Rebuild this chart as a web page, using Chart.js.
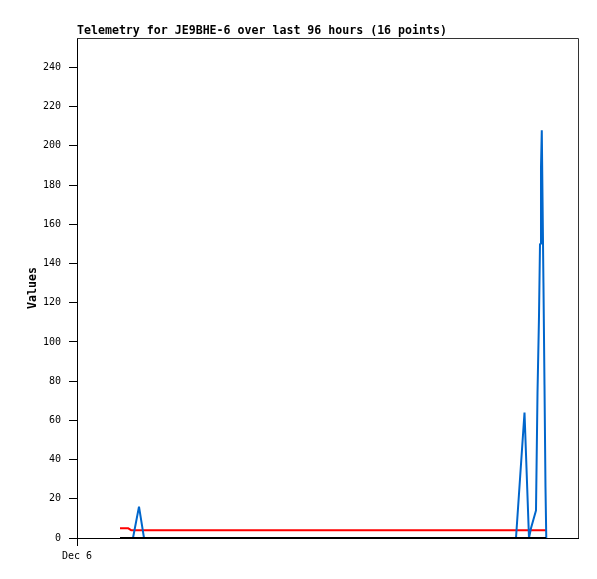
<!DOCTYPE html>
<html>
<head>
<meta charset="utf-8">
<script src="https://cdn.jsdelivr.net/npm/chart.js@4/dist/chart.umd.min.js"></script>
<style>
  body { margin: 0; background: #fff; }
  canvas { display: block; }
</style>
</head>
<body>
<canvas id="telemetry-chart" width="597" height="579"></canvas>
<script>
const titleText = "Telemetry for JE9BHE-6 over last 96 hours (16 points)";
const yLabel = "Values";

// x = hours since Dec 6 00:00
const blueHours = [10.73, 11.88, 12.84, 84.12, 85.75, 86.61, 86.99, 87.95, 88.24, 88.52, 88.72, 88.91, 89.06, 89.38, 89.58, 89.77, 89.92];
const blueValues = [0, 16, 0, 0, 64, 0, 5, 14, 74, 112, 150, 189, 208, 130, 78, 26, 0];
const redHours = [8.24, 9.77, 10.35, 89.86];
const redValues = [5, 5, 4, 4];
const blackHours = [8.24, 89.86];
const blackValues = [0, 0];

const yTicks = [0, 20, 40, 60, 80, 100, 120, 140, 160, 180, 200, 220, 240];
const xTicks = [0];
const xTickLabels = ["Dec 6"];

const mono = "'DejaVu Sans Mono', 'Liberation Mono', monospace";

function points(xs, ys) {
  return xs.map((x, i) => ({ x: x, y: ys[i] }));
}

function lineSet(label, xs, ys, color, width) {
  return {
    label: label,
    data: points(xs, ys),
    borderColor: color,
    borderWidth: width,
    borderJoinStyle: "bevel",
    pointRadius: 0,
    tension: 0,
    fill: false,
  };
}

// title text and the top/right frame lines
const framePlugin = {
  id: "frame",
  beforeDraw(chart) {
    const ctx = chart.ctx;
    ctx.save();
    ctx.fillStyle = "#fff";
    ctx.fillRect(0, 0, chart.width, chart.height);
    ctx.restore();
  },
  afterDraw(chart) {
    const { ctx, chartArea } = chart;
    ctx.save();
    ctx.strokeStyle = "#333";
    ctx.lineWidth = 1;
    ctx.beginPath();
    ctx.moveTo(chartArea.left, chartArea.top + 0.5);
    ctx.lineTo(chartArea.right + 0.5, chartArea.top + 0.5);
    ctx.lineTo(chartArea.right + 0.5, chartArea.bottom);
    ctx.stroke();
    ctx.fillStyle = "#000";
    ctx.font = "bold 11.6px " + mono;
    ctx.textAlign = "left";
    ctx.textBaseline = "alphabetic";
    ctx.fillText(titleText, chartArea.left, 34);
    ctx.restore();
  },
};

const ctx = document.getElementById("telemetry-chart").getContext("2d");
new Chart(ctx, {
  type: "line",
  data: {
    datasets: [
      lineSet("black", blackHours, blackValues, "#000000", 2),
      lineSet("blue", blueHours, blueValues, "#0066cc", 2),
      lineSet("red", redHours, redValues, "#ff0000", 2),
    ],
  },
  options: {
    responsive: false,
    animation: false,
    layout: { padding: { top: 38, right: 19, left: 0, bottom: 0 } },
    plugins: {
      legend: { display: false },
      tooltip: { enabled: false },
    },
    scales: {
      x: {
        type: "linear",
        min: 0,
        max: 96,
        afterBuildTicks: (s) => {
          s.ticks = xTicks.map((v) => ({ value: v }));
        },
        afterFit: (s) => {
          s.height = 41;
        },
        grid: { drawOnChartArea: false, tickLength: 8, color: "#000" },
        border: { color: "#000", width: 1 },
        ticks: {
          callback: (v, i) => xTickLabels[i],
          font: { family: mono, size: 10 },
          color: "#000",
          padding: 4,
          maxRotation: 0,
          autoSkip: false,
        },
      },
      y: {
        min: 0,
        max: 255,
        afterBuildTicks: (s) => {
          s.ticks = yTicks.map((v) => ({ value: v }));
        },
        afterFit: (s) => {
          s.width = 77;
        },
        grid: { drawOnChartArea: false, tickLength: 8, color: "#000" },
        border: { color: "#000", width: 1 },
        ticks: {
          font: { family: mono, size: 10 },
          color: "#000",
          padding: 8,
        },
        title: {
          display: true,
          text: yLabel,
          font: { family: mono, size: 11.6, weight: "bold" },
          color: "#000",
          padding: { top: 26, bottom: 0 },
        },
      },
    },
  },
  plugins: [framePlugin],
});
</script>
</body>
</html>
